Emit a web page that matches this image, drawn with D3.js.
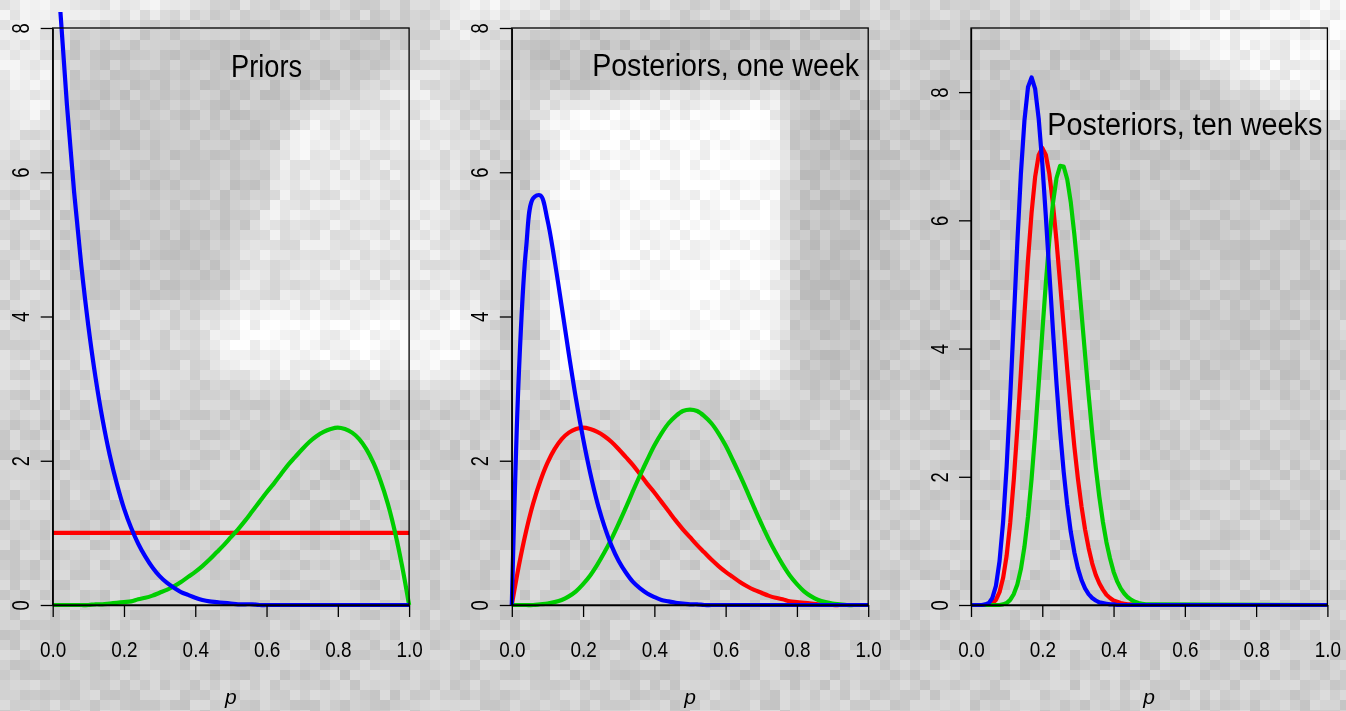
<!DOCTYPE html>
<html>
<head>
<meta charset="utf-8">
<script src="https://cdn.jsdelivr.net/npm/d3@7"></script>
<style>
  body { margin: 0; background: #d4d4d4; overflow: hidden; }
  #photo { position: absolute; left: 0; top: 0; width: 1350px; height: 720px; image-rendering: pixelated; }
  svg { position: absolute; left: 0; top: 0; display: block; font-family: "Liberation Sans", Arial, Helvetica, sans-serif; }
</style>
</head>
<body>
<canvas id="photo" width="135" height="72"></canvas>
<svg id="chart"></svg>
<script>
/*
 Beta densities for the three panels: priors, posteriors after one week, after ten weeks
 values (density on the y axis, p on the x axis)
*/

////////////////////////////// DATA //////////////////////////////

// p grid used for the first two panels
const pCoarse = [0,0.02,0.04,0.06,0.08,0.1,0.12,0.14,0.16,0.18,0.2,0.22,0.24,0.26,0.28,0.3,0.32,
  0.34,0.36,0.38,0.4,0.42,0.44,0.46,0.48,0.5,0.52,0.54,0.56,0.58,0.6,0.62,0.64,0.66,
  0.68,0.7,0.72,0.74,0.76,0.78,0.8,0.82,0.84,0.86,0.88,0.9,0.92,0.94,0.96,0.98,1];

// p grid for the ten-week panel (fine near the peaks, flat after 0.5)
const pFine = [0,0.01,0.02,0.03,0.04,0.05,0.06,0.07,0.08,0.09,0.1,0.11,0.12,0.13,0.14,0.15,0.16,
  0.17,0.18,0.19,0.2,0.21,0.22,0.23,0.24,0.25,0.26,0.27,0.28,0.29,0.3,0.31,0.32,0.33,
  0.34,0.35,0.36,0.37,0.38,0.39,0.4,0.41,0.42,0.43,0.44,0.45,0.46,0.47,0.48,0.49,0.5,1];

// Priors
const priorBlue = [10.00,8.34,6.93,5.73,4.72,3.87,3.16,2.57,2.08,1.68,1.34,1.07,0.85,0.67,0.52,0.40,0.31,
  0.24,0.18,0.14,0.10,0.07,0.05,0.04,0.03,0.02,0.01,0.01,0.01,0,0,0,0,0,
  0,0,0,0,0,0,0,0,0,0,0,0,0,0,0,0,0];
const priorRed = [1,1,1,1,1,1,1,1,1,1,1,1,1,1,1,1,1,
  1,1,1,1,1,1,1,1,1,1,1,1,1,1,1,1,1,
  1,1,1,1,1,1,1,1,1,1,1,1,1,1,1,1,1];
const priorGreen = [0,0,0,0,0,0,0.01,0.01,0.02,0.03,0.04,0.05,0.08,0.10,0.13,0.17,0.21,
  0.26,0.32,0.39,0.46,0.54,0.63,0.73,0.83,0.94,1.05,1.17,1.30,1.43,1.56,1.68,1.81,1.94,
  2.05,2.16,2.26,2.34,2.40,2.44,2.46,2.44,2.39,2.30,2.16,1.97,1.72,1.41,1.02,0.55,0];

// Posteriors, one week
const weekBlue = [0,3.23,4.94,5.64,5.68,5.34,4.78,4.14,3.48,2.86,2.31,1.83,1.42,1.09,0.82,0.61,0.45,
  0.32,0.23,0.16,0.11,0.07,0.05,0.03,0.02,0.01,0.01,0,0,0,0,0,0,0,
  0,0,0,0,0,0,0,0,0,0,0,0,0,0,0,0,0];
const weekRed = [0,0.55,1.02,1.41,1.72,1.97,2.16,2.30,2.39,2.44,2.46,2.44,2.40,2.34,2.26,2.16,2.05,
  1.94,1.81,1.68,1.56,1.43,1.30,1.17,1.05,0.94,0.83,0.73,0.63,0.54,0.46,0.39,0.32,0.26,
  0.21,0.17,0.13,0.10,0.08,0.05,0.04,0.03,0.02,0.01,0.01,0,0,0,0,0,0];
const weekGreen = [0,0,0,0,0.01,0.02,0.04,0.07,0.12,0.19,0.29,0.41,0.56,0.73,0.92,1.13,1.35,
  1.58,1.80,2.01,2.21,2.38,2.52,2.62,2.69,2.71,2.69,2.62,2.52,2.38,2.21,2.01,1.80,1.58,
  1.35,1.13,0.92,0.73,0.56,0.41,0.29,0.19,0.12,0.07,0.04,0.02,0.01,0,0,0,0];

// Posteriors, ten weeks
const tenBlue = [0,0,0,0,0.01,0.03,0.11,0.30,0.68,1.29,2.16,3.24,4.44,5.65,6.73,7.56,8.08,
  8.23,8.05,7.58,6.89,6.06,5.17,4.28,3.45,2.71,2.08,1.56,1.14,0.82,0.57,0.39,0.26,0.17,
  0.11,0.07,0.04,0.03,0.02,0.01,0.01,0,0,0,0,0,0,0,0,0,0,0];
const tenRed = [0,0,0,0,0,0.01,0.03,0.08,0.20,0.42,0.77,1.28,1.95,2.75,3.63,4.54,5.39,
  6.12,6.68,7.02,7.13,7.02,6.72,6.25,5.67,5.02,4.35,3.68,3.05,2.47,1.97,1.54,1.18,0.89,
  0.65,0.47,0.34,0.24,0.16,0.11,0.07,0.05,0.03,0.02,0.01,0.01,0,0,0,0,0,0];
const tenGreen = [0,0,0,0,0,0,0,0,0,0.01,0.03,0.08,0.17,0.32,0.56,0.91,1.38,
  1.97,2.67,3.45,4.25,5.02,5.71,6.27,6.66,6.85,6.84,6.64,6.28,5.78,5.20,4.56,3.91,3.28,
  2.69,2.15,1.69,1.30,0.98,0.73,0.52,0.37,0.26,0.18,0.12,0.08,0.05,0.03,0.02,0.01,0.01,0];

const titles = ['Priors', 'Posteriors, one week', 'Posteriors, ten weeks'];
const yMaxes = [8, 8, 9];
const xTicks = [0, 0.2, 0.4, 0.6, 0.8, 1.0];
const yTicks = [0, 2, 4, 6, 8];
const xLabel = 'p';

////////////////////////////// SETUP //////////////////////////////

const w = 1346;
const h = 711;
const plotW = 356.4;
const plotTop = 28;
const plotBottom = 605;
const panelLeft = [52.7, 511.8, 971];
const titleWidths = [71, 267, 275];
const titleBase = [77, 76, 135];
const lineColours = { red: '#ff0000', green: '#00cd00', blue: '#0000ff' };

const panels = [
  { grid: pCoarse, series: [['red', priorRed], ['green', priorGreen], ['blue', priorBlue]] },
  { grid: pCoarse, series: [['red', weekRed], ['green', weekGreen], ['blue', weekBlue]] },
  { grid: pFine,   series: [['red', tenRed], ['green', tenGreen], ['blue', tenBlue]] }
];

////////////////////////////// BACKGROUND //////////////////////////////
// low-res greyscale photo behind the plots, drawn at 1/10 and blown up

const bgShapes = [
  ['#ececec', '-20,-20 200,-20 170,50 80,120 -20,150'],
  ['#c9c9c9', '60,25 430,20 340,105 300,135 240,300 60,300'],
  ['#e6e6e6', '330,110 440,60 470,300 300,300 285,190'],
  ['#f7f7f7', '300,115 335,120 300,175 255,300 235,300'],
  ['#f5f5f5', '215,305 475,295 480,385 235,385 205,345'],
  ['#f0f0f0', '440,-20 560,-20 540,40 470,60'],
  ['#c4c4c4', '480,30 880,20 880,95 540,100'],
  ['#c8c8c8', '500,95 545,95 545,385 505,385'],
  ['#f9f9f9', '545,100 790,95 790,385 545,385'],
  ['#c3c3c3', '790,95 900,90 900,620 790,620'],
  ['#cacaca', '900,20 1346,40 1346,600 900,600'],
  ['#f2f2f2', '1130,-20 1366,-20 1366,130 1260,95 1160,45'],
  ['#d0d0d0', '-20,390 1366,390 1366,731 -20,731']
];

function drawPhoto() {
  let cv = document.getElementById('photo');
  let ctx = cv.getContext('2d');
  ctx.fillStyle = '#d8d8d8';
  ctx.fillRect(0, 0, cv.width, cv.height);
  ctx.save();
  ctx.filter = 'blur(0.9px)';
  ctx.scale(0.1, 0.1);
  bgShapes.forEach((s) => {
    let pts = s[1].split(' ').map((q) => q.split(',').map(Number));
    ctx.beginPath();
    pts.forEach((q, k) => k ? ctx.lineTo(q[0], q[1]) : ctx.moveTo(q[0], q[1]));
    ctx.closePath();
    ctx.fillStyle = s[0];
    ctx.fill();
  });
  ctx.restore();

  // block grain, deterministic hash per cell
  let img = ctx.getImageData(0, 0, cv.width, cv.height);
  for (let j = 0; j < cv.height; j++) {
    for (let i = 0; i < cv.width; i++) {
      let s = Math.sin(i * 127.1 + j * 311.7) * 43758.5453;
      let n = (s - Math.floor(s) - 0.5) * 24;
      let k = (j * cv.width + i) * 4;
      let v = Math.max(0, Math.min(255, img.data[k] + n));
      img.data[k] = img.data[k + 1] = img.data[k + 2] = v;
    }
  }
  ctx.putImageData(img, 0, 0);
}
drawPhoto();

////////////////////////////// PANELS //////////////////////////////

let svg = d3.select('#chart')
  .attr('width', w)
  .attr('height', h);

let defs = svg.append('defs');

function buildPanel(i) {
  let panel = panels[i];
  let x0 = panelLeft[i];

  let xScale = d3.scaleLinear()
    .domain([0, 1])
    .range([x0, x0 + plotW]);

  let yScale = d3.scaleLinear()
    .domain([0, yMaxes[i]])
    .range([plotBottom, plotTop]);

  let g = svg.append('g').attr('class', 'panel');

  // lines may run above the box (prior blue), clip a bit higher up
  defs.append('clipPath').attr('id', 'clip' + i)
    .append('rect')
    .attr('x', x0 - 5).attr('y', 12)
    .attr('width', plotW + 10).attr('height', plotBottom - 12 + 5);

  let line = d3.line()
    .x((d) => xScale(d[0]))
    .y((d) => yScale(d[1]))
    .curve(i < 2 ? d3.curveCatmullRom.alpha(0.5) : d3.curveLinear);

  g.append('g')
    .attr('clip-path', `url(#clip${i})`)
    .selectAll('path')
    .data(panel.series)
    .enter()
    .append('path')
    .attr('d', (d) => line(panel.grid.map((p, k) => [p, d[1][k]])))
    .attr('fill', 'none')
    .attr('stroke', (d) => lineColours[d[0]])
    .attr('stroke-width', 4.2)
    .attr('stroke-linejoin', 'round');

  // box
  g.append('rect')
    .attr('x', x0).attr('y', plotTop)
    .attr('width', plotW).attr('height', plotBottom - plotTop)
    .attr('fill', 'none')
    .attr('stroke', '#000')
    .attr('stroke-width', 1.3);

  //AXES
  let xAxis = d3.axisBottom(xScale)
    .tickValues(xTicks)
    .tickFormat(d3.format('.1f'))
    .tickSize(12)
    .tickSizeOuter(0)
    .tickPadding(24);
  let xAxisGroup = g.append('g')
    .attr('transform', `translate(0, ${plotBottom})`)
    .call(xAxis);
  xAxisGroup.selectAll('text')
    .attr('transform', 'scale(0.86, 1)')
    .attr('fill', '#000')
    .style('font-size', '22px');

  let yAxis = d3.axisLeft(yScale)
    .tickValues(yTicks)
    .tickFormat(d3.format('d'))
    .tickSize(12)
    .tickSizeOuter(0);
  let yAxisGroup = g.append('g')
    .attr('transform', `translate(${x0}, 0)`)
    .call(yAxis);
  yAxisGroup.selectAll('text')
    .attr('x', 0).attr('y', 0).attr('dy', 0)
    .attr('text-anchor', 'middle')
    .attr('transform', 'translate(-23.4, 0) rotate(-90) scale(0.8, 1)')
    .attr('fill', '#000')
    .style('font-size', '23px');

  g.selectAll('.domain, .tick line')
    .attr('stroke', '#000')
    .attr('stroke-width', 1.3);

  // title
  g.append('text')
    .attr('x', xScale(0.6))
    .attr('y', titleBase[i])
    .attr('text-anchor', 'middle')
    .attr('textLength', titleWidths[i])
    .attr('lengthAdjust', 'spacingAndGlyphs')
    .style('font-size', '31px')
    .text(titles[i]);

  // x label
  g.append('text')
    .attr('x', xScale(0.5))
    .attr('y', 704)
    .attr('text-anchor', 'middle')
    .style('font-size', '21px')
    .style('font-style', 'italic')
    .text(xLabel);
}

buildPanel(0);
buildPanel(1);
buildPanel(2);
</script>
</body>
</html>
